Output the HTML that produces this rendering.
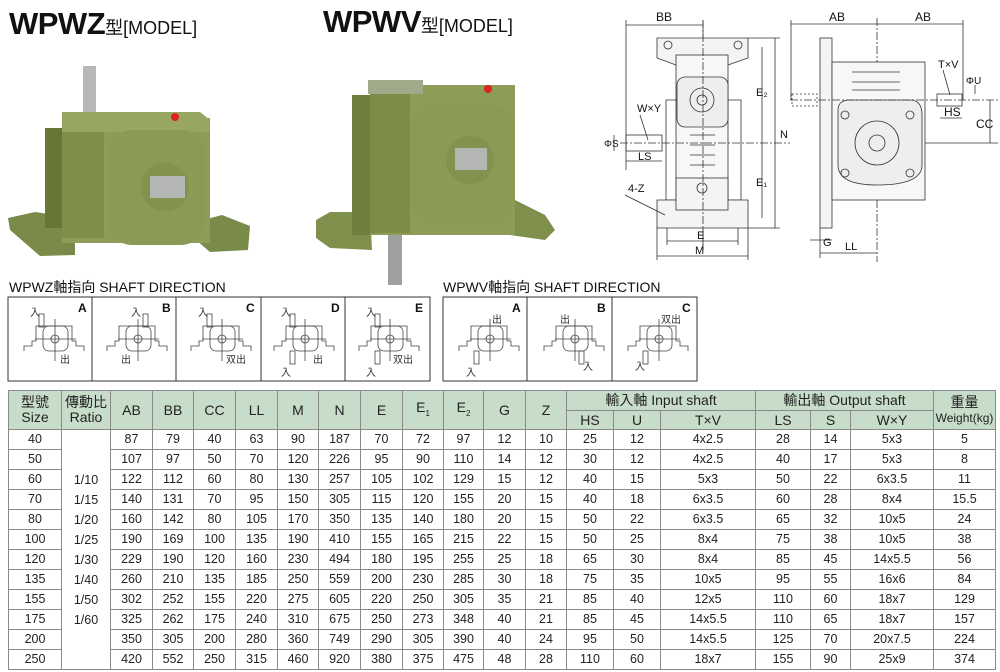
<!DOCTYPE html>
<html><head><meta charset="utf-8">
<style>
body{margin:0;background:#fff;}
#w{position:relative;width:1000px;height:672px;overflow:hidden;font-family:"Liberation Sans","Noto Sans CJK TC",sans-serif;}
table{position:absolute;left:8px;top:390px;border-collapse:collapse;table-layout:fixed;font-size:12.5px;color:#222;}
td{border:1px solid #8a8a8a;text-align:center;padding:0;height:19px;line-height:19px;white-space:nowrap;overflow:hidden;}
.h td{background:#c8dcca;font-size:14px;}
.h td.t{line-height:15px;font-size:14px;}
.h2 td{background:#c8dcca;font-size:14px;height:18px;line-height:18px;}
sub{font-size:8px;}
.r{vertical-align:top;line-height:20px;padding-top:40px;}
</style></head><body><div id="w">
<svg width="1000" height="390" style="position:absolute;left:0;top:0" font-family="Liberation Sans, Noto Sans CJK TC, sans-serif">
<text x="9" y="34" font-size="31" font-weight="bold" fill="#111" letter-spacing="-0.5">WPWZ<tspan font-size="18" font-weight="normal" letter-spacing="0">型[MODEL]</tspan></text>
<text x="323" y="32" font-size="31" font-weight="bold" fill="#111" letter-spacing="-0.5">WPWV<tspan font-size="18" font-weight="normal" letter-spacing="0">型[MODEL]</tspan></text>
<!-- WPWZ photo -->
<g>
<rect x="83" y="66" width="13" height="50" fill="#b5b8b5"/>
<polygon points="8,218 35,212 75,218 75,255 40,256 10,230" fill="#7a8a48"/>
<polygon points="196,222 222,215 250,226 248,250 210,252 196,240" fill="#7a8a48"/>
<rect x="45" y="128" width="18" height="100" fill="#667636"/>
<rect x="62" y="118" width="148" height="125" fill="#8d9c58"/>
<rect x="62" y="120" width="42" height="118" fill="#7f8f4a"/>
<polygon points="62,112 200,112 210,120 210,132 62,132" fill="#98a663"/>
<rect x="108" y="130" width="97" height="115" rx="24" fill="#8b9a55"/>
<circle cx="165" cy="187" r="24" fill="#82934e"/>
<rect x="150" y="176" width="35" height="22" fill="#b3b6b3"/>
<circle cx="175" cy="117" r="4" fill="#d22"/>
</g>
<!-- WPWV photo -->
<g>
<rect x="388" y="230" width="14" height="55" fill="#9da09d"/>
<polygon points="316,220 330,212 370,212 372,250 330,248 316,238" fill="#7f8f4c"/>
<polygon points="515,200 545,215 555,230 545,240 510,235" fill="#7f8f4c"/>
<rect x="352" y="95" width="20" height="140" fill="#6f7f3e"/>
<rect x="370" y="85" width="145" height="150" fill="#8d9c58"/>
<rect x="370" y="88" width="40" height="145" fill="#7d8d48"/>
<rect x="368" y="80" width="55" height="14" fill="#a0a98a"/>
<rect x="410" y="105" width="105" height="120" rx="25" fill="#8b9a55"/>
<circle cx="470" cy="160" r="24" fill="#82934e"/>
<rect x="455" y="148" width="32" height="22" fill="#b3b6b3"/>
<circle cx="488" cy="89" r="4" fill="#d22"/>
</g>
<!-- drawings -->
<g stroke="#333" stroke-width="0.8" fill="none">
<line x1="626" y1="25" x2="703" y2="25"/><line x1="626" y1="20" x2="626" y2="170"/>
<line x1="703" y1="20" x2="703" y2="250"/>
<path d="M657,38 H748 V58 L728,65 H676 L657,58 Z" fill="#f4f4f4"/>
<rect x="676" y="55" width="52" height="150" fill="#f7f7f7"/>
<path d="M666,100 H741 V200 H666 Z"/>
<rect x="677" y="77" width="51" height="50" rx="8" fill="#eee"/>
<circle cx="702" cy="100" r="12"/><circle cx="702" cy="100" r="5"/>
<circle cx="668" cy="45" r="4"/><circle cx="738" cy="45" r="4"/>
<circle cx="668" cy="218" r="4"/><circle cx="738" cy="218" r="4"/>
<path d="M657,200 H748 V228 H657 Z" fill="#f4f4f4"/>
<rect x="676" y="178" width="52" height="32" fill="#f4f4f4"/>
<circle cx="702" cy="188" r="5"/>
<rect x="626" y="135" width="36" height="16"/>
<line x1="690" y1="135" x2="715" y2="135"/><line x1="690" y1="145" x2="715" y2="145"/><line x1="690" y1="155" x2="715" y2="155"/><line x1="690" y1="165" x2="715" y2="165"/>
<line x1="620" y1="143" x2="790" y2="143" stroke-dasharray="8,2,2,2"/>
<line x1="703" y1="20" x2="703" y2="250" stroke-dasharray="8,2,2,2"/>
<line x1="748" y1="38" x2="780" y2="38"/><line x1="748" y1="228" x2="780" y2="228"/>
<line x1="775" y1="38" x2="775" y2="228"/><line x1="762" y1="47" x2="762" y2="218"/>
<line x1="667" y1="241" x2="738" y2="241"/><line x1="657" y1="256" x2="748" y2="256"/>
<line x1="657" y1="228" x2="657" y2="260"/><line x1="748" y1="228" x2="748" y2="260"/>
<line x1="667" y1="228" x2="667" y2="245"/><line x1="738" y1="228" x2="738" y2="245"/>
<line x1="626" y1="161" x2="662" y2="161"/><line x1="614" y1="135" x2="614" y2="151"/>
<line x1="640" y1="115" x2="648" y2="140"/><line x1="625" y1="195" x2="665" y2="215"/>
<line x1="791" y1="24" x2="963" y2="24"/><line x1="791" y1="20" x2="791" y2="100"/><line x1="963" y1="20" x2="963" y2="100"/>
<line x1="877" y1="18" x2="877" y2="262" stroke-dasharray="8,2,2,2"/>
<rect x="820" y="38" width="12" height="190" fill="#f4f4f4"/>
<rect x="832" y="62" width="93" height="138" fill="#f7f7f7"/>
<path d="M838,110 Q838,100 850,100 H910 Q922,100 922,115 V165 Q922,185 877,185 Q838,185 838,165 Z" fill="#eee"/>
<circle cx="877" cy="143" r="22"/><circle cx="877" cy="143" r="8"/>
<circle cx="845" cy="115" r="4"/><circle cx="910" cy="115" r="4"/><circle cx="845" cy="173" r="4"/><circle cx="910" cy="173" r="4"/>
<line x1="852" y1="72" x2="900" y2="72"/><line x1="852" y1="82" x2="900" y2="82"/><line x1="852" y1="90" x2="900" y2="90"/>
<rect x="937" y="94" width="25" height="12"/>
<rect x="792" y="94" width="25" height="12" stroke-dasharray="2,2"/>
<line x1="790" y1="100" x2="1000" y2="100" stroke-dasharray="8,2,2,2"/>
<line x1="925" y1="143" x2="998" y2="143"/>
<line x1="990" y1="100" x2="990" y2="143"/><line x1="940" y1="118" x2="962" y2="118"/>
<line x1="975" y1="85" x2="975" y2="94"/>
<line x1="810" y1="240" x2="832" y2="240"/><line x1="820" y1="253" x2="877" y2="253"/>
<line x1="820" y1="228" x2="820" y2="258"/>
<line x1="943" y1="70" x2="950" y2="95"/>
</g>
<g font-size="11" fill="#111">
<text x="656" y="21" font-size="12">BB</text><text x="829" y="21" font-size="12">AB</text><text x="915" y="21" font-size="12">AB</text>
<text x="637" y="112">W×Y</text><text x="638" y="160">LS</text><text x="604" y="147" font-size="10">ΦS</text>
<text x="628" y="192">4-Z</text><text x="697" y="239">E</text><text x="695" y="254">M</text>
<text x="780" y="138">N</text><text x="756" y="96">E₂</text><text x="756" y="186">E₁</text>
<text x="938" y="68">T×V</text><text x="944" y="116" font-size="12">HS</text><text x="976" y="128" font-size="12">CC</text><text x="966" y="84" font-size="10">ΦU</text>
<text x="823" y="246">G</text><text x="845" y="250">LL</text>
</g>
<text x="9" y="292" font-size="14" fill="#111">WPWZ軸指向 SHAFT DIRECTION</text>
<text x="443" y="292" font-size="14" fill="#111">WPWV軸指向 SHAFT DIRECTION</text>
<g fill="none" stroke="#333" stroke-width="1">
<rect x="8" y="297" width="422" height="84"/><line x1="92" y1="297" x2="92" y2="381"/><line x1="176" y1="297" x2="176" y2="381"/><line x1="261" y1="297" x2="261" y2="381"/><line x1="345" y1="297" x2="345" y2="381"/>
<rect x="443" y="297" width="254" height="84"/><line x1="527" y1="297" x2="527" y2="381"/><line x1="612" y1="297" x2="612" y2="381"/>
</g>
<defs><g id="gb" fill="none" stroke="#444" stroke-width="0.8">
<path d="M-31,12 V7 H-23 V2 H-19 V-13 H17 V2 H21 V7 H29 V12"/>
<rect x="-12" y="-13" width="25" height="25" rx="6"/>
<circle cx="0" cy="0" r="4"/>
<line x1="-20" y1="0" x2="21" y2="0"/><line x1="0" y1="-20" x2="0" y2="22"/>
</g></defs>
<g font-size="12" font-weight="bold" fill="#111">
<text x="78" y="312">A</text><text x="162" y="312">B</text><text x="246" y="312">C</text><text x="331" y="312">D</text><text x="415" y="312">E</text>
<text x="512" y="312">A</text><text x="597" y="312">B</text><text x="682" y="312">C</text>
</g>
<g>
<use href="#gb" x="55" y="339"/><use href="#gb" x="138" y="339"/><use href="#gb" x="222" y="339"/><use href="#gb" x="305" y="339"/><use href="#gb" x="390" y="339"/>
<use href="#gb" x="490" y="339"/><use href="#gb" x="575" y="339"/><use href="#gb" x="659" y="339"/>
</g>
<g fill="none" stroke="#444" stroke-width="0.8">
<rect x="39" y="314" width="5" height="13"/><rect x="143" y="314" width="5" height="13"/><rect x="207" y="314" width="5" height="13"/>
<rect x="290" y="314" width="5" height="13"/><rect x="290" y="351" width="5" height="13"/>
<rect x="375" y="314" width="5" height="13"/><rect x="375" y="351" width="5" height="13"/>
<rect x="474" y="351" width="5" height="13"/><rect x="579" y="351" width="5" height="13"/><rect x="643" y="351" width="5" height="13"/>
</g>
<g font-size="10" fill="#333">
<text x="30" y="316">入</text><text x="60" y="363">出</text>
<text x="131" y="316">入</text><text x="121" y="363">出</text>
<text x="198" y="316">入</text><text x="226" y="363">双出</text>
<text x="281" y="316">入</text><text x="281" y="376">入</text><text x="313" y="363">出</text>
<text x="366" y="316">入</text><text x="366" y="376">入</text><text x="393" y="363">双出</text>
<text x="492" y="323">出</text><text x="466" y="376">入</text>
<text x="560" y="323">出</text><text x="583" y="370">入</text>
<text x="661" y="323">双出</text><text x="635" y="370">入</text>
</g>
</svg>
<table>
<colgroup><col style="width:53px"><col style="width:49px"><col style="width:42px"><col style="width:41px"><col style="width:42px"><col style="width:42px"><col style="width:41px"><col style="width:42px"><col style="width:42px"><col style="width:41px"><col style="width:40px"><col style="width:42px"><col style="width:41px"><col style="width:47px"><col style="width:47px"><col style="width:95px"><col style="width:55px"><col style="width:40px"><col style="width:83px"><col style="width:62px"></colgroup>
<tr class="h"><td rowspan="2" class="t">型號<br>Size</td><td rowspan="2" class="t">傳動比<br>Ratio</td><td rowspan="2">AB</td><td rowspan="2">BB</td><td rowspan="2">CC</td><td rowspan="2">LL</td><td rowspan="2">M</td><td rowspan="2">N</td><td rowspan="2">E</td><td rowspan="2">E<sub>1</sub></td><td rowspan="2">E<sub>2</sub></td><td rowspan="2">G</td><td rowspan="2">Z</td><td colspan="3">輸入軸 Input shaft</td><td colspan="3">輸出軸 Output shaft</td><td rowspan="2" class="t">重量<br><span style="font-size:12px">Weight(kg)</span></td></tr>
<tr class="h2"><td>HS</td><td>U</td><td>T×V</td><td>LS</td><td>S</td><td>W×Y</td></tr>
<tr><td>40</td><td rowspan="12" class="r">1/10<br>1/15<br>1/20<br>1/25<br>1/30<br>1/40<br>1/50<br>1/60</td><td>87</td><td>79</td><td>40</td><td>63</td><td>90</td><td>187</td><td>70</td><td>72</td><td>97</td><td>12</td><td>10</td><td>25</td><td>12</td><td>4x2.5</td><td>28</td><td>14</td><td>5x3</td><td>5</td></tr>
<tr><td>50</td><td>107</td><td>97</td><td>50</td><td>70</td><td>120</td><td>226</td><td>95</td><td>90</td><td>110</td><td>14</td><td>12</td><td>30</td><td>12</td><td>4x2.5</td><td>40</td><td>17</td><td>5x3</td><td>8</td></tr>
<tr><td>60</td><td>122</td><td>112</td><td>60</td><td>80</td><td>130</td><td>257</td><td>105</td><td>102</td><td>129</td><td>15</td><td>12</td><td>40</td><td>15</td><td>5x3</td><td>50</td><td>22</td><td>6x3.5</td><td>11</td></tr>
<tr><td>70</td><td>140</td><td>131</td><td>70</td><td>95</td><td>150</td><td>305</td><td>115</td><td>120</td><td>155</td><td>20</td><td>15</td><td>40</td><td>18</td><td>6x3.5</td><td>60</td><td>28</td><td>8x4</td><td>15.5</td></tr>
<tr><td>80</td><td>160</td><td>142</td><td>80</td><td>105</td><td>170</td><td>350</td><td>135</td><td>140</td><td>180</td><td>20</td><td>15</td><td>50</td><td>22</td><td>6x3.5</td><td>65</td><td>32</td><td>10x5</td><td>24</td></tr>
<tr><td>100</td><td>190</td><td>169</td><td>100</td><td>135</td><td>190</td><td>410</td><td>155</td><td>165</td><td>215</td><td>22</td><td>15</td><td>50</td><td>25</td><td>8x4</td><td>75</td><td>38</td><td>10x5</td><td>38</td></tr>
<tr><td>120</td><td>229</td><td>190</td><td>120</td><td>160</td><td>230</td><td>494</td><td>180</td><td>195</td><td>255</td><td>25</td><td>18</td><td>65</td><td>30</td><td>8x4</td><td>85</td><td>45</td><td>14x5.5</td><td>56</td></tr>
<tr><td>135</td><td>260</td><td>210</td><td>135</td><td>185</td><td>250</td><td>559</td><td>200</td><td>230</td><td>285</td><td>30</td><td>18</td><td>75</td><td>35</td><td>10x5</td><td>95</td><td>55</td><td>16x6</td><td>84</td></tr>
<tr><td>155</td><td>302</td><td>252</td><td>155</td><td>220</td><td>275</td><td>605</td><td>220</td><td>250</td><td>305</td><td>35</td><td>21</td><td>85</td><td>40</td><td>12x5</td><td>110</td><td>60</td><td>18x7</td><td>129</td></tr>
<tr><td>175</td><td>325</td><td>262</td><td>175</td><td>240</td><td>310</td><td>675</td><td>250</td><td>273</td><td>348</td><td>40</td><td>21</td><td>85</td><td>45</td><td>14x5.5</td><td>110</td><td>65</td><td>18x7</td><td>157</td></tr>
<tr><td>200</td><td>350</td><td>305</td><td>200</td><td>280</td><td>360</td><td>749</td><td>290</td><td>305</td><td>390</td><td>40</td><td>24</td><td>95</td><td>50</td><td>14x5.5</td><td>125</td><td>70</td><td>20x7.5</td><td>224</td></tr>
<tr><td>250</td><td>420</td><td>552</td><td>250</td><td>315</td><td>460</td><td>920</td><td>380</td><td>375</td><td>475</td><td>48</td><td>28</td><td>110</td><td>60</td><td>18x7</td><td>155</td><td>90</td><td>25x9</td><td>374</td></tr>
</table>
</div></body></html>
